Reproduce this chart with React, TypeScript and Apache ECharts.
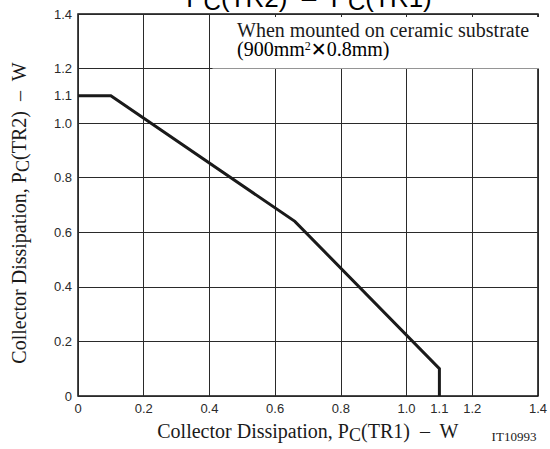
import React, { useEffect, useRef } from "react";
import * as echarts from "echarts";

// Allowable collector dissipation, TR1 vs TR2 (W)
const pcTR1 = [0, 0.1, 0.66, 1.1, 1.1];
const pcTR2 = [1.1, 1.1, 0.64, 0.1, 0];

const xTickLabels = [0, 0.2, 0.4, 0.6, 0.8, 1.0, 1.1, 1.2, 1.4];
const yTickLabels = [0, 0.2, 0.4, 0.6, 0.8, 1.0, 1.1, 1.2, 1.4];

const titleText = "{m|P}{s|C}{m|(TR2)  –  P}{s|C}{m|(TR1)}";
const xName = "{m|Collector Dissipation, P}{s|C}{m|(TR1)  –  W}";
const yName = "{m|Collector Dissipation, P}{s|C}{m|(TR2)  –  W}";
const noteLine1 = "When mounted on ceramic substrate";
const noteLine2 = "{t|(900mm}{p|2}{x|✕}{t|0.8mm)}";
const figId = "IT10993";

const SERIF = "'Liberation Serif', 'Times New Roman', serif";
const SANS = "'Liberation Sans', Arial, sans-serif";
const INK = "#1a1a1a";

const fmt = (v: number) => (v === 0 ? "0" : v.toFixed(1));

const nameRich = {
  m: { fontFamily: SERIF, fontSize: 20, color: INK, lineHeight: 26 },
  s: { fontFamily: SERIF, fontSize: 18, color: INK, lineHeight: 18, verticalAlign: "bottom" },
};

export default function App() {
  const ref = useRef<HTMLDivElement>(null);

  useEffect(() => {
    if (!ref.current) return;
    const chart = echarts.init(ref.current, undefined, { renderer: "svg" });
    const tickLabel = {
      fontFamily: SANS,
      fontSize: 13,
      color: "#2a2a2a",
    };
    chart.setOption({
      animation: false,
      backgroundColor: "#fff",
      grid: {
        left: 78,
        right: 9,
        top: 14,
        bottom: 51,
        show: true,
        borderColor: "#111",
        borderWidth: 1.5,
        backgroundColor: "transparent",
      },
      xAxis: {
        type: "value",
        min: 0,
        max: 1.4,
        interval: 0.2,
        axisLine: { show: false },
        axisTick: { show: false },
        splitLine: { show: true, lineStyle: { color: "#2a2a2a", width: 1 } },
        axisLabel: {
          ...tickLabel,
          margin: 6,
          customValues: xTickLabels,
          formatter: fmt,
        },
        name: xName,
        nameLocation: "middle",
        nameGap: 22,
        nameTextStyle: { rich: nameRich },
      },
      yAxis: {
        type: "value",
        min: 0,
        max: 1.4,
        interval: 0.2,
        axisLine: { show: false },
        axisTick: { show: false },
        splitLine: { show: true, lineStyle: { color: "#2a2a2a", width: 1 } },
        axisLabel: {
          ...tickLabel,
          margin: 6,
          customValues: yTickLabels,
          formatter: fmt,
        },
        name: yName,
        nameLocation: "middle",
        nameGap: 46,
        nameTextStyle: { rich: nameRich, padding: [0, 16, 0, 0] },
      },
      series: [
        {
          type: "line",
          data: pcTR1.map((x, i) => [x, pcTR2[i]]),
          symbol: "none",
          z: 5,
          lineStyle: { color: INK, width: 3, join: "miter" },
        },
      ],
      graphic: {
        elements: [
          {
            type: "rect",
            z: 50,
            shape: { x: 212.5, y: 17, width: 327, height: 51.5 },
            style: { fill: "#fff" },
          },
          {
            type: "text",
            z: 51,
            x: 237,
            y: 30,
            style: {
              text: noteLine1,
              fontFamily: SERIF,
              fontSize: 20,
              lineHeight: 18,
              fill: INK,
              verticalAlign: "middle",
            },
          },
          {
            type: "text",
            z: 51,
            x: 237,
            y: 49,
            style: {
              text: noteLine2,
              verticalAlign: "middle",
              rich: {
                t: { fontFamily: SERIF, fontSize: 20, color: INK, lineHeight: 18 },
                p: { fontFamily: SERIF, fontSize: 12, color: INK, lineHeight: 12, verticalAlign: "top" },
                x: { fontFamily: "'DejaVu Sans', sans-serif", fontSize: 19, color: INK, lineHeight: 18 },
              },
            },
          },
          {
            type: "text",
            z: 51,
            x: 309,
            y: 13,
            style: {
              text: titleText,
              align: "center",
              verticalAlign: "bottom",
              rich: {
                m: { fontFamily: SANS, fontSize: 26, color: INK, lineHeight: 30 },
                s: { fontFamily: SANS, fontSize: 24, color: INK, lineHeight: 20, verticalAlign: "bottom" },
              },
            },
          },
          {
            type: "text",
            z: 51,
            x: 514,
            y: 436,
            style: {
              text: figId,
              align: "center",
              verticalAlign: "middle",
              fontFamily: SERIF,
              fontSize: 13,
              fill: INK,
            },
          },
        ],
      },
    });
    return () => chart.dispose();
  }, []);

  return <div ref={ref} style={{ width: 550, height: 449, position: "absolute", left: 0, top: 0 }} />;
}
